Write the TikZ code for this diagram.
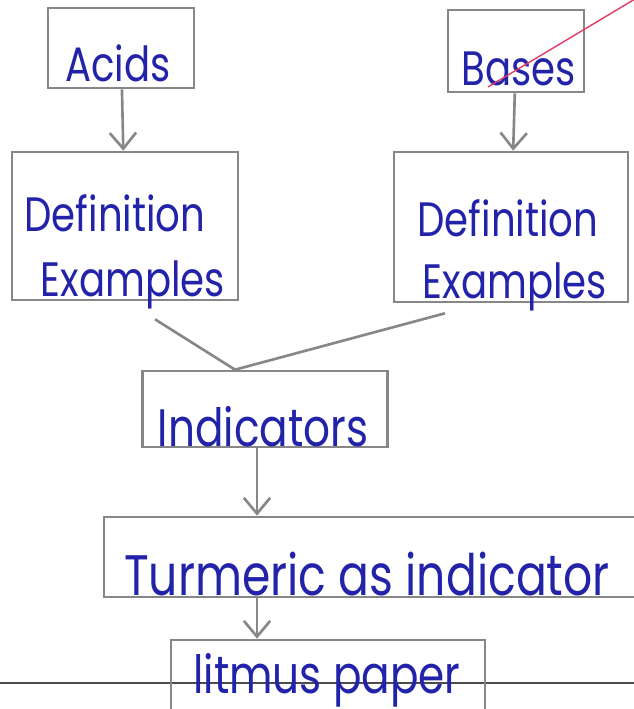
\documentclass[tikz,border=0pt]{standalone}
\usepackage{fontspec}
\setmainfont{Poppins}
\usetikzlibrary{positioning,arrows.meta}
\definecolor{pencil}{RGB}{135,135,135}
\definecolor{inkblue}{RGB}{35,35,170}
\definecolor{redpen}{RGB}{225,60,100}
\tikzstyle{box}=[draw=pencil, line width=1.5pt, inner sep=0pt]
\tikzstyle{hand}=[text=inkblue, font=\fontsize{22}{24}\selectfont]
\tikzstyle{line}=[draw=pencil, line width=1.5pt]
\tikzstyle{arr}=[line, -{Straight Barb[length=9pt, width=15pt]}]
\newcommand{\tall}[1]{\scalebox{1}[1.25]{#1}}

\begin{document}
\begin{tikzpicture}[x=0.02cm, y=-0.02cm]
  \useasboundingbox (0,0) rectangle (634,709);
  % ruled line of the page
  \draw[black!70, line width=1pt] (0,683) -- (634,683);

  % boxes
  \node[box, minimum width=2.92cm, minimum height=1.6cm] (acid) at (121,48) {};
  \node[box, minimum width=2.72cm, minimum height=1.64cm] (base) at (516,51) {};
  \node[box, minimum width=4.52cm, minimum height=2.96cm] (ldef) at (125,226) {};
  \node[box, minimum width=4.68cm, minimum height=3cm] (rdef) at (511,227) {};
  \node[box, minimum width=4.9cm, minimum height=1.52cm] (ind) at (265,409) {};
  \node[box, minimum width=10.92cm, minimum height=1.6cm] (turm) at (377,557) {};
  \node[box, minimum width=6.28cm, minimum height=1.6cm] (lit) at (328,680) {};

  % texts
  \node[hand] (acidtxt) at (118,63) {\tall{Acids}};
  \node[hand] (basetxt) at (519,69) {\tall{Bases}};
  \node[hand] (ldefa) at (115,213) {\tall{Definition}};
  \node[hand] (ldefb) at (133,285) {\tall{Examples}};
  \node[hand] (rdefa) at (508,218) {\tall{Definition}};
  \node[hand] (rdefb) at (515,287) {\tall{Examples}};
  \node[hand, font=\fontsize{24}{26}\selectfont] (indtxt) at (263,427) {\tall{Indicators}};
  \node[hand, font=\fontsize{26}{28}\selectfont] (turmtxt) at (367,574) {\tall{Turmeric as indicator}};
  \node[hand, font=\fontsize{24}{26}\selectfont] (littxt) at (327,680) {\tall{litmus paper}};

  % connectors
  \draw[arr] (acid) -- (ldef);
  \draw[arr] (base) -- (rdef);
  \coordinate (meet) at ([xshift=-0.6cm]ind.north);
  \draw[line] ([xshift=0.6cm, yshift=-0.36cm]ldef.south) -- (meet);
  \draw[line] ([xshift=-1.32cm, yshift=-0.2cm]rdef.south) -- (meet);
  \draw[arr] ([xshift=-0.16cm]ind.south) -- ([xshift=-0.16cm]ind.south |- turm.north);
  \draw[arr] ([xshift=-0.16cm]ind.south |- turm.south) -- ([xshift=-0.16cm]ind.south |- lit.north);

  % red stroke over Bases
  \draw[redpen, line width=0.8pt] (488,87) -- (640,-4);
\end{tikzpicture}
\end{document}
